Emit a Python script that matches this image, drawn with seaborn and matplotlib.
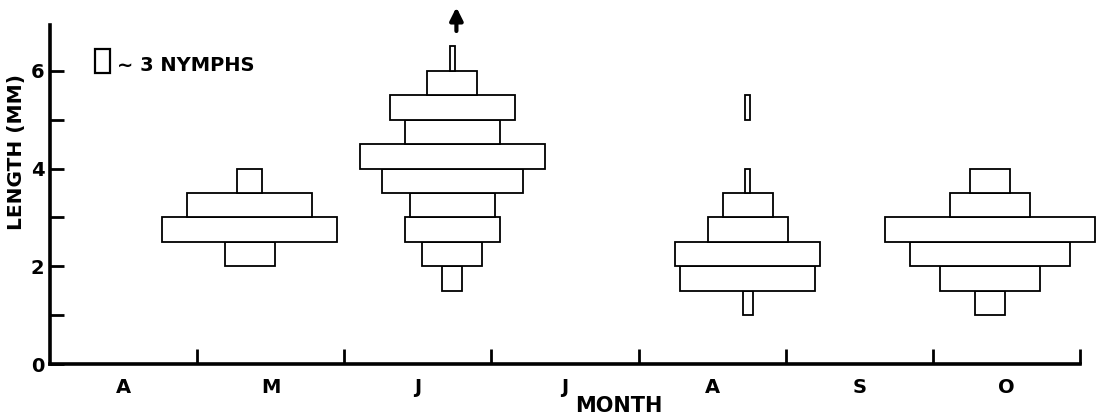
import matplotlib
matplotlib.use("Agg")
import matplotlib.pyplot as plt
import seaborn as sns

# Size-frequency of nymphs per sampling date (0.5 mm length classes)
month_labels = ["A", "M", "J", "J", "A", "S", "O"]
sample_dates = [1.357, 2.735, 4.742, 6.39]  # months after 1 April

may_lower = [2.0, 2.5, 3.0, 3.5]
may_counts = [10, 35, 25, 5]

jun_lower = [1.5, 2.0, 2.5, 3.0, 3.5, 4.0, 4.5, 5.0, 5.5, 6.0]
jun_counts = [4, 12, 19, 17, 28, 37, 19, 25, 10, 1]

aug_lower = [1.0, 1.5, 2.0, 2.5, 3.0, 3.5, 5.0]
aug_counts = [2, 27, 29, 16, 10, 1, 1]

oct_lower = [1.0, 1.5, 2.0, 2.5, 3.0, 3.5]
oct_counts = [6, 20, 32, 42, 16, 8]

legend_count = 3
bin_height = 0.5

sns.set_theme(style="ticks")
plt.rcParams["font.family"] = ["DejaVu Sans"]
plt.rcParams["font.weight"] = "bold"
for key in ("text.color", "axes.labelcolor", "xtick.color", "ytick.color",
            "axes.edgecolor"):
    plt.rcParams[key] = "black"

W, H = 1101, 416
fig = plt.figure(figsize=(W / 100, H / 100), dpi=100)
ax = fig.add_axes([50 / W, 1 - 364 / H, 1030 / W, (364 - 24.5) / H])
ax.set_xlim(0, 7)
ax.set_ylim(0, 6.95)

per_nymph = 5 / 147  # x-units of width per nymph

samples = [
    (sample_dates[0], may_lower, may_counts),
    (sample_dates[1], jun_lower, jun_counts),
    (sample_dates[2], aug_lower, aug_counts),
    (sample_dates[3], oct_lower, oct_counts),
]
for center, lows, counts in samples:
    widths = [c * per_nymph for c in counts]
    lefts = [center - w / 2 for w in widths]
    bars = ax.barh(lows, widths, left=lefts, height=bin_height, align="edge",
                   facecolor="white", edgecolor="black", linewidth=1.3)
    for b in bars:
        b.set_clip_on(False)

# Legend key: one box standing for three nymphs
key_w = legend_count * per_nymph
ax.barh([5.95], [key_w], left=[0.306], height=bin_height, align="edge",
        facecolor="white", edgecolor="black", linewidth=1.6)
ax.text(0.455, 6.11, "∼ 3 NYMPHS", fontsize=14, fontweight="bold",
        va="center", ha="left")

# Arrow: further nymphs beyond the plotted range in June
ax.annotate("", xy=(2.762, 7.36), xytext=(2.762, 6.76),
            arrowprops=dict(arrowstyle="-|>", lw=3, color="black",
                            mutation_scale=19),
            annotation_clip=False)

sns.despine(ax=ax)
for s in ("left", "bottom"):
    ax.spines[s].set_linewidth(2.6)
    ax.spines[s].set_color("black")

ax.set_xticks(range(1, 8))
ax.set_xticklabels([])
ax.set_xticks([i + 0.5 for i in range(7)], minor=True)
ax.set_xticklabels(month_labels, minor=True, fontsize=14, fontweight="bold")
ax.tick_params(axis="x", which="major", direction="in", length=11, width=2,
               color="black")
ax.tick_params(axis="x", which="minor", length=0, pad=10)

ax.set_yticks(range(0, 7))
ax.set_yticklabels(["0", "", "2", "", "4", "", "6"], fontsize=14,
                   fontweight="bold")
ax.tick_params(axis="y", direction="in", length=10, width=2, pad=4,
               color="black")

fig.text(619 / W, 1 - 406 / H, "MONTH", fontsize=15, fontweight="bold",
         ha="center", va="center")
fig.text(17 / W, 1 - 152 / H, "LENGTH (MM)", fontsize=14.5, fontweight="bold",
         rotation=90, ha="center", va="center")

fig.savefig("out.png", dpi=100, facecolor="white")
